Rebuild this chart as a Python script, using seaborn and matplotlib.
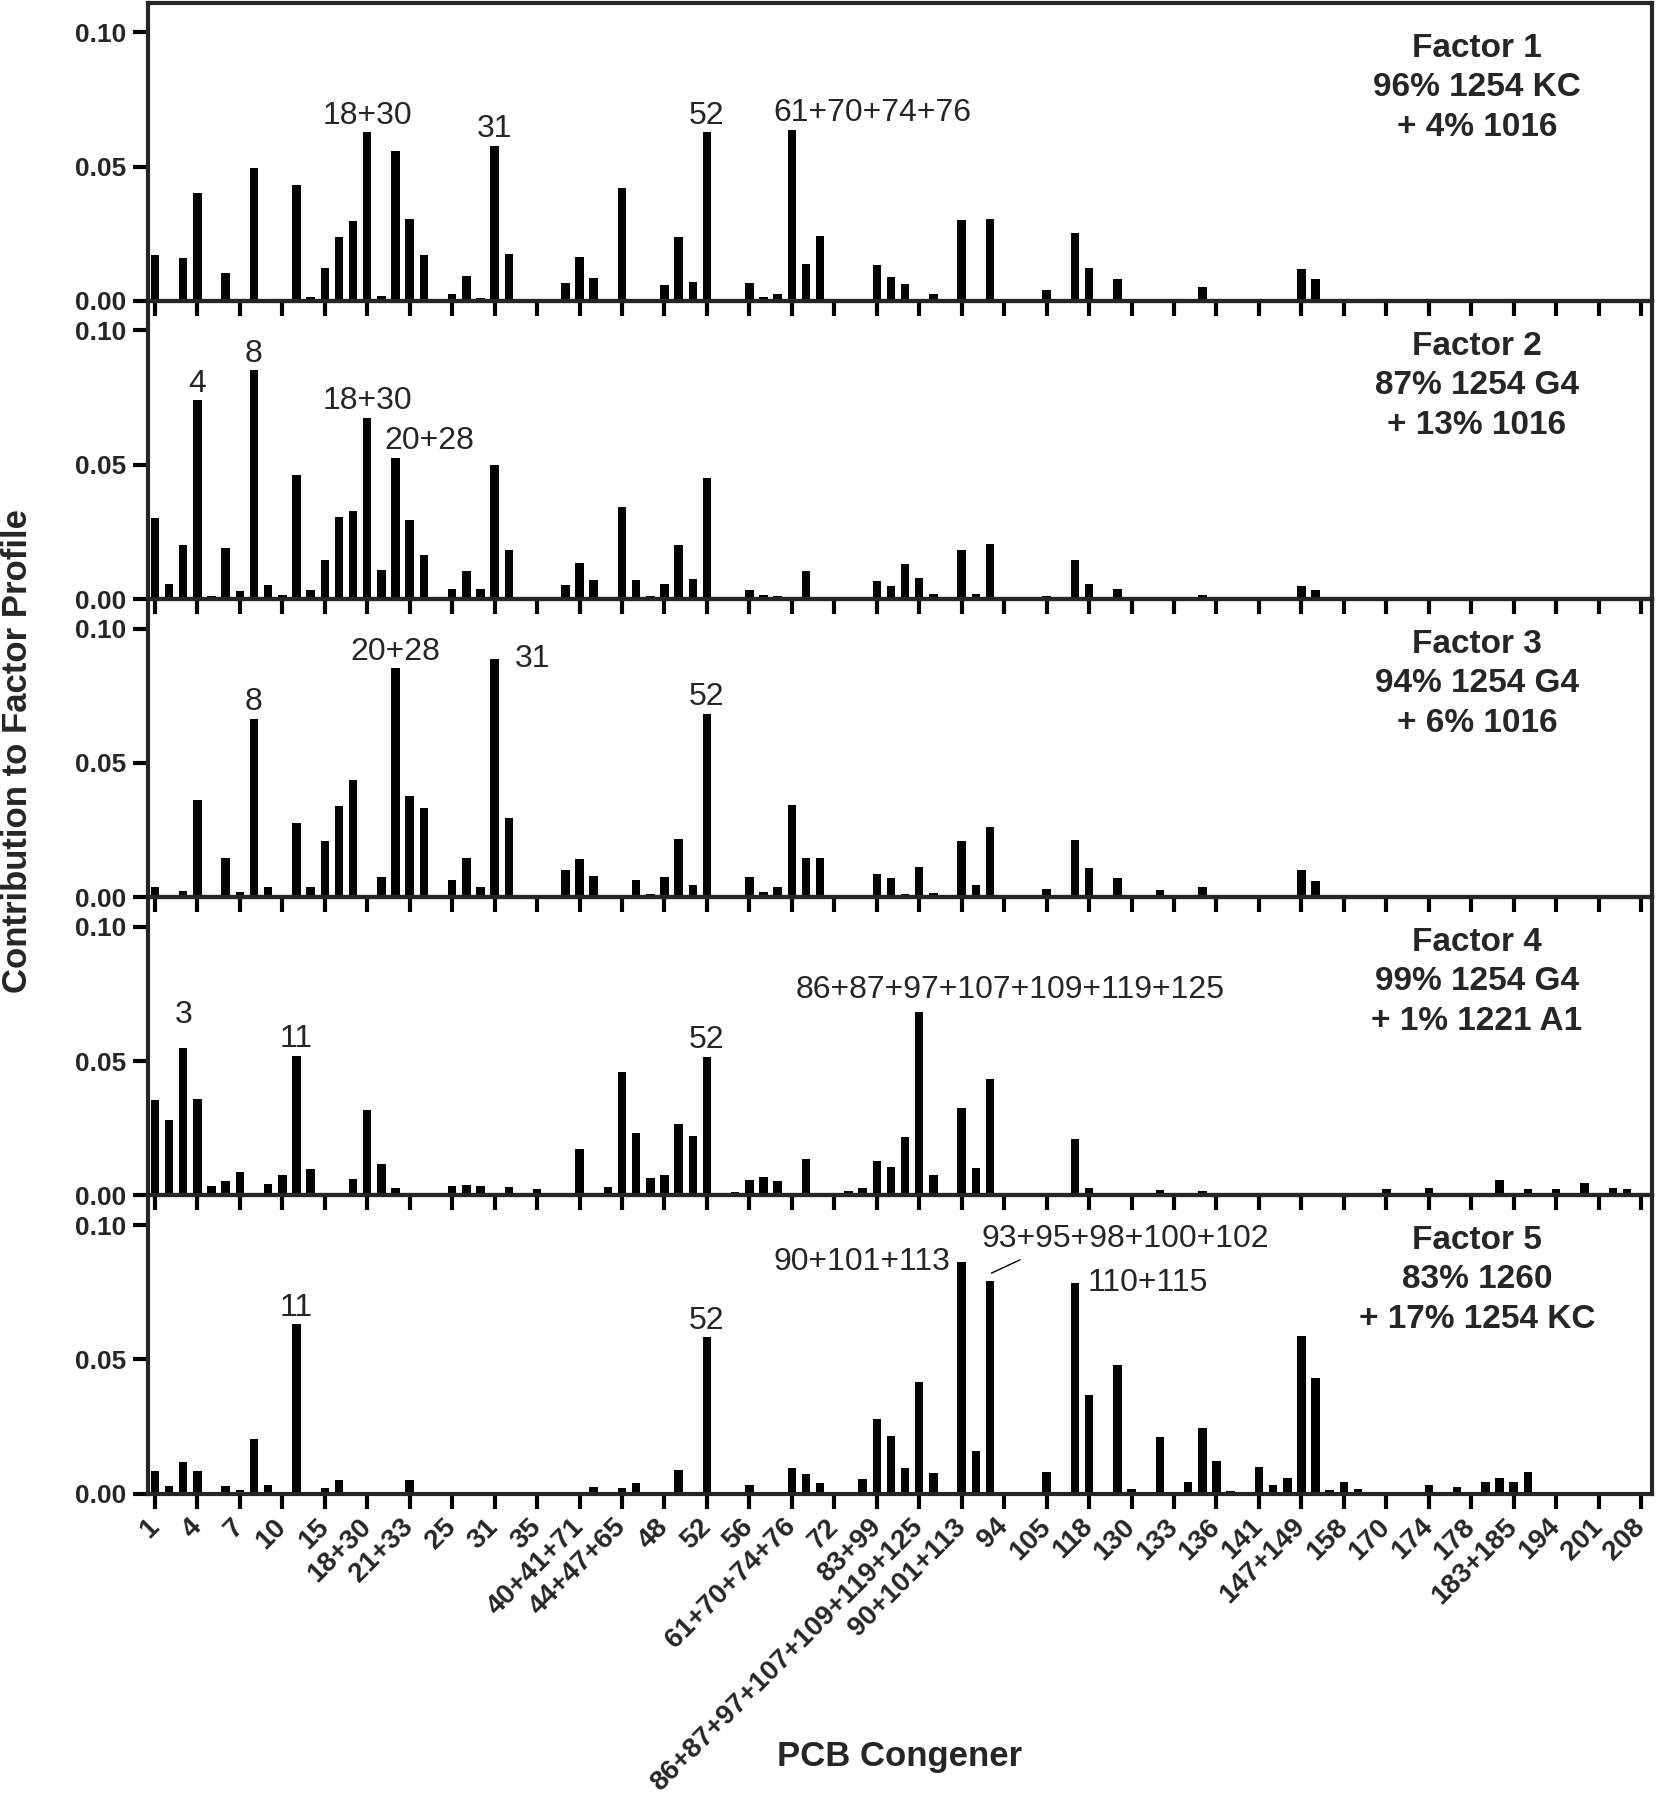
import numpy as np
import pandas as pd
import matplotlib
matplotlib.use("Agg")
import matplotlib.pyplot as plt
import seaborn as sns

# x tick labels, one for every third congener bar
tick_labels = [
    "1", "4", "7", "10", "15", "18+30", "21+33", "25", "31", "35",
    "40+41+71", "44+47+65", "48", "52", "56", "61+70+74+76", "72", "83+99",
    "86+87+97+107+109+119+125", "90+101+113", "94", "105", "118", "130",
    "133", "136", "141", "147+149", "158", "170", "174", "178", "183+185",
    "194", "201", "208",
]

# contribution to factor profile, 106 congeners in plot order
factor_1 = [
    0.017, 0, 0.0158, 0.040, 0, 0.0102, 0, 0.0496, 0, 0,
    0.0432, 0.0015, 0.0123, 0.0236, 0.0297, 0.0628, 0.002, 0.0557, 0.0303, 0.0172,
    0, 0.0027, 0.0092, 0.001, 0.0578, 0.0174, 0, 0, 0, 0.0067,
    0.0164, 0.0085, 0, 0.0422, 0, 0, 0.0058, 0.0239, 0.007, 0.0627,
    0, 0, 0.0065, 0.0015, 0.0027, 0.0637, 0.0139, 0.0241, 0, 0,
    0, 0.0133, 0.009, 0.0063, 0, 0.0027, 0, 0.030, 0, 0.0303,
    0, 0, 0, 0.004, 0, 0.0251, 0.0124, 0, 0.008, 0,
    0, 0, 0, 0, 0.0052, 0, 0, 0, 0, 0,
    0, 0.0118, 0.0083, 0, 0, 0, 0, 0, 0, 0,
    0, 0, 0, 0, 0, 0, 0, 0, 0, 0,
    0, 0, 0, 0, 0, 0,
]
factor_2 = [
    0.030, 0.0055, 0.020, 0.074, 0.001, 0.019, 0.003, 0.0853, 0.0054, 0.0017,
    0.0463, 0.0034, 0.0144, 0.0306, 0.0328, 0.0675, 0.0107, 0.0526, 0.0293, 0.0163,
    0, 0.0036, 0.0103, 0.0039, 0.050, 0.0183, 0, 0, 0, 0.0054,
    0.0135, 0.007, 0, 0.0342, 0.007, 0.0012, 0.0056, 0.020, 0.0076, 0.0449,
    0, 0, 0.0032, 0.0017, 0.0013, 0, 0.0103, 0, 0, 0,
    0, 0.0066, 0.005, 0.013, 0.0079, 0.002, 0, 0.0183, 0.0018, 0.0205,
    0, 0, 0, 0.0012, 0, 0.0146, 0.0055, 0, 0.0036, 0,
    0, 0, 0, 0, 0.0017, 0, 0, 0, 0, 0,
    0, 0.0048, 0.0033, 0, 0, 0, 0, 0, 0, 0,
    0, 0, 0, 0, 0, 0, 0, 0, 0, 0,
    0, 0, 0, 0, 0, 0,
]
factor_3 = [
    0.004, 0, 0.0022, 0.0363, 0, 0.0145, 0.0018, 0.0665, 0.0037, 0.001,
    0.0278, 0.004, 0.021, 0.034, 0.0438, 0, 0.0075, 0.0852, 0.0376, 0.0332,
    0, 0.0064, 0.0148, 0.0037, 0.0886, 0.0296, 0, 0, 0, 0.010,
    0.0141, 0.008, 0, 0, 0.0065, 0.0013, 0.0075, 0.0218, 0.0044, 0.0683,
    0, 0, 0.0075, 0.0018, 0.0037, 0.0342, 0.0146, 0.0146, 0, 0,
    0.0008, 0.0086, 0.007, 0.0012, 0.0114, 0.0015, 0, 0.0209, 0.0044, 0.026,
    0, 0, 0, 0.003, 0, 0.0215, 0.011, 0, 0.0071, 0,
    0, 0.0028, 0, 0, 0.0037, 0, 0, 0, 0, 0,
    0, 0.010, 0.0062, 0, 0, 0, 0, 0, 0, 0,
    0, 0, 0, 0, 0, 0.0008, 0, 0, 0, 0,
    0, 0, 0, 0, 0, 0,
]
factor_4 = [
    0.0357, 0.0282, 0.055, 0.036, 0.0034, 0.0052, 0.0086, 0, 0.0043, 0.0076,
    0.052, 0.010, 0, 0.001, 0.0062, 0.0317, 0.0116, 0.0027, 0, 0,
    0.001, 0.0036, 0.004, 0.0036, 0, 0.0031, 0.001, 0.0025, 0, 0,
    0.0174, 0, 0.0031, 0.046, 0.0234, 0.0066, 0.0075, 0.0265, 0.0222, 0.0517,
    0, 0.0012, 0.0056, 0.0068, 0.0055, 0, 0.0137, 0, 0, 0.0015,
    0.0027, 0.0129, 0.0106, 0.0217, 0.0683, 0.0075, 0, 0.0326, 0.0102, 0.0435,
    0, 0, 0, 0, 0, 0.0211, 0.0027, 0, 0, 0,
    0, 0.0022, 0, 0, 0.0015, 0.0008, 0, 0, 0, 0,
    0, 0, 0, 0, 0, 0, 0, 0.0024, 0.0008, 0,
    0.0028, 0, 0, 0, 0.0006, 0.0058, 0, 0.0025, 0, 0.0024,
    0.001, 0.0046, 0, 0.0028, 0.0024, 0,
]
factor_5 = [
    0.0085, 0.0027, 0.0117, 0.0086, 0, 0.0027, 0.0015, 0.0205, 0.0033, 0,
    0.063, 0, 0.002, 0.0052, 0, 0, 0.0007, 0, 0.0052, 0.0005,
    0, 0, 0, 0, 0, 0, 0, 0, 0, 0.0006,
    0.0006, 0.0025, 0, 0.002, 0.0038, 0.0006, 0, 0.0087, 0, 0.0582,
    0, 0, 0.0033, 0, 0.0006, 0.0097, 0.0074, 0.004, 0, 0,
    0.0054, 0.0277, 0.0215, 0.0097, 0.0416, 0.0076, 0, 0.0864, 0.016, 0.0791,
    0, 0, 0, 0.0079, 0.0007, 0.0785, 0.0368, 0, 0.0477, 0.0017,
    0, 0.0209, 0, 0.0043, 0.0244, 0.0121, 0.0011, 0, 0.010, 0.0034,
    0.0059, 0.0588, 0.0432, 0.0013, 0.0043, 0.0018, 0, 0.0007, 0.0007, 0,
    0.0032, 0.0007, 0.0023, 0, 0.0045, 0.006, 0.0043, 0.0082, 0, 0,
    0, 0, 0, 0, 0, 0,
]

factor_names = ["Factor 1", "Factor 2", "Factor 3", "Factor 4", "Factor 5"]
factor_mix_main = ["96% 1254 KC", "87% 1254 G4", "94% 1254 G4", "99% 1254 G4", "83% 1260"]
factor_mix_minor = ["+ 4% 1016", "+ 13% 1016", "+ 6% 1016", "+ 1% 1221 A1", "+ 17% 1254 KC"]

# peak labels: (panel, bar index, text, x offset in bars, placement, y offset pt)
peak_labels = [
    (0, 15, "18+30", 0, "above", 6), (0, 24, "31", 0, "above", 6),
    (0, 39, "52", 0, "above", 6), (0, 45, "61+70+74+76", -1.3, "above_left", 6),
    (1, 3, "4", 0, "above", 6), (1, 7, "8", 0, "above", 6),
    (1, 15, "18+30", 0, "above", 6), (1, 17, "20+28", -0.8, "above_left", 6),
    (2, 7, "8", 0, "above", 6), (2, 17, "20+28", 0, "above", 6),
    (2, 24, "31", 1.4, "side", 0), (2, 39, "52", 0, "above", 6),
    (3, 2, "3", 0, "above", 18), (3, 10, "11", 0, "above", 6),
    (3, 39, "52", 0, "above", 6),
    (3, 54, "86+87+97+107+109+119+125", 6.4, "above", 10),
    (4, 10, "11", 0, "above", 6), (4, 39, "52", 0, "above", 6),
    (4, 57, "90+101+113", -0.8, "side_left", 0), (4, 65, "110+115", 0.9, "side", 0),
]

factors = [factor_1, factor_2, factor_3, factor_4, factor_5]
n_bars = len(factor_1)
positions = np.arange(n_bars)

df = pd.concat(
    [pd.DataFrame({"pos": positions, "value": vals, "factor": k})
     for k, vals in enumerate(factors)],
    ignore_index=True,
)

sns.set_theme(style="ticks")
plt.rcParams["font.family"] = ["Liberation Sans", "DejaVu Sans"]
plt.rcParams["axes.facecolor"] = "none"

fig, axes = plt.subplots(5, 1, figsize=(16.58, 18.0), dpi=100)
fig.subplots_adjust(left=0.0895, right=0.9964, top=0.9985, bottom=0.1702, hspace=0)

for k, ax in enumerate(axes):
    sub = df[df["factor"] == k]
    sns.barplot(data=sub, x="pos", y="value", ax=ax, color="black", saturation=1,
                width=0.6, linewidth=0, native_scale=True, errorbar=None)
    # transparent so the ticks of the panel above stay visible
    ax.patch.set_visible(False)
    ax.set_xlim(-0.46, 105.77)
    ax.set_ylim(0, 0.111)
    ax.set_xlabel("")
    ax.set_ylabel("")
    for s in ax.spines.values():
        s.set_visible(True)
        s.set_linewidth(3)
    ax.set_yticks([0, 0.05, 0.10])
    ax.set_yticklabels(["0.00", "0.05", "0.10"], fontsize=19, fontweight="bold")
    ax.set_xticks(np.arange(0, n_bars, 3))
    ax.tick_params(axis="both", direction="out", length=11, width=3, color="black")
    ax.tick_params(axis="y", pad=5)
    if k < 4:
        ax.set_xticklabels([])
    else:
        ax.set_xticklabels(tick_labels, rotation=45, ha="right", va="center",
                           rotation_mode="anchor", fontsize=20, fontweight="bold")
        ax.tick_params(axis="x", pad=10)

    ax.text(0.8836, 0.848, factor_names[k], transform=ax.transAxes,
            ha="center", va="center", fontsize=24, fontweight="bold")
    ax.text(0.8836, 0.717, factor_mix_main[k], transform=ax.transAxes,
            ha="center", va="center", fontsize=24, fontweight="bold")
    ax.text(0.8836, 0.583, factor_mix_minor[k], transform=ax.transAxes,
            ha="center", va="center", fontsize=24, fontweight="bold")

for k, i, text, dx, how, dy in peak_labels:
    ax = axes[k]
    y = factors[k][i]
    if how == "above":
        ha, va = "center", "baseline"
    elif how == "above_left":
        ha, va = "left", "baseline"
    elif how == "side":
        ha, va = "left", "center"
    else:
        ha, va = "right", "center"
    ax.annotate(text, xy=(i + dx, y), xytext=(0, dy), textcoords="offset points",
                ha=ha, va=va, fontsize=23)

# label with a leader line to the 93+95+98+100+102 bar
axes[4].annotate("93+95+98+100+102", xy=(59.1, factor_5[59] + 0.003),
                 xytext=(58.4, 0.0947), ha="left", va="center", fontsize=23,
                 arrowprops=dict(arrowstyle="-", lw=1, color="black",
                                 relpos=(0.176, 0), shrinkA=4, shrinkB=0))

fig.text(0.0105, 0.583, "Contribution to Factor Profile", rotation=90,
         ha="center", va="center", fontsize=25, fontweight="bold")
fig.text(0.5425, 0.0244, "PCB Congener", ha="center", va="center",
         fontsize=25, fontweight="bold")

fig.savefig("out.png", dpi=100, facecolor="white")
